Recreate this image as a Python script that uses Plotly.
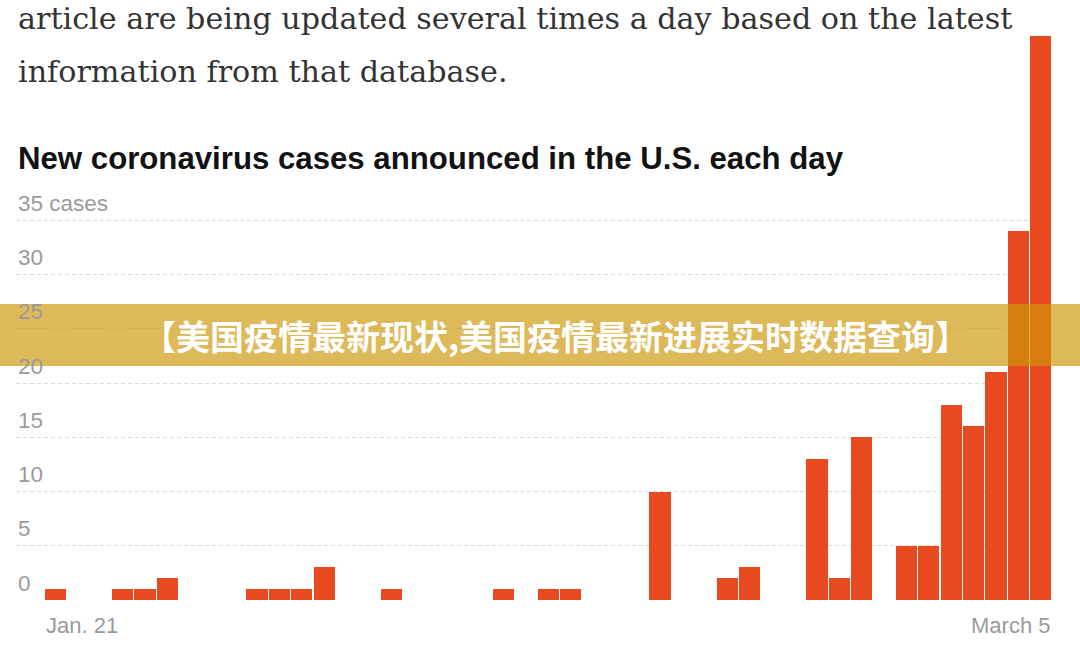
import plotly.graph_objects as go
import pandas as pd

# ---- data ----
dates = pd.date_range("2020-01-21", "2020-03-05", freq="D").strftime("%Y-%m-%d").tolist()
new_cases = [1, 0, 0, 1, 1, 2, 0, 0, 0, 1,
             1, 1, 3, 0, 0, 1, 0, 0, 0, 0,
             1, 0, 1, 1, 0, 0, 0, 10, 0, 0,
             2, 3, 0, 0, 13, 2, 15, 0, 5, 5,
             18, 16, 21, 34, 52]
y_ticks = [0, 5, 10, 15, 20, 25, 30, 35]
y_tick_text = ["0", "5", "10", "15", "20", "25", "30", "35 cases"]
x_label_first = "Jan. 21"
x_label_last = "March 5"
body_lines = ["article are being updated several times a day based on the latest",
              "information from that database."]
chart_title = "New coronavirus cases announced in the U.S. each day"
banner_text = "【美国疫情最新现状,美国疫情最新进展实时数据查询】"

DAY_MS = 86400000
W, H = 1080, 671
L, R, T, B = 16, 28, 36, 71
PW, PH = W - L - R, H - T - B


def px_x(px):
    return (px - L) / PW


def px_y(py):
    return (H - B - py) / PH


fig = go.Figure()
fig.add_trace(go.Bar(
    x=dates, y=new_cases,
    width=0.95 * DAY_MS,
    marker=dict(color="#E84A1F", line=dict(width=0)),
    hoverinfo="x+y",
))

sans = "Liberation Sans, Arial, sans-serif"
serif = "DejaVu Serif, Liberation Serif, serif"
grey = "#9a9a9a"

annotations = []
for v, t in zip(y_ticks, y_tick_text):
    annotations.append(dict(
        x=0, xref="paper", xanchor="left", y=v, yref="y", yanchor="middle",
        yshift=17, text=t, showarrow=False,
        font=dict(family=sans, size=22.5, color=grey)))

annotations.append(dict(
    x=pd.Timestamp(dates[0]) - pd.Timedelta(hours=12), xref="x", xanchor="left",
    y=px_y(625), yref="paper", yanchor="middle", text=x_label_first,
    showarrow=False, font=dict(family=sans, size=22, color=grey)))
annotations.append(dict(
    x=pd.Timestamp(dates[-1]) + pd.Timedelta(hours=12), xref="x", xanchor="right",
    y=px_y(625), yref="paper", yanchor="middle", text=x_label_last,
    showarrow=False, font=dict(family=sans, size=22, color=grey)))

for line, cy in zip(body_lines, [19, 71]):
    annotations.append(dict(
        x=px_x(16), xref="paper", xanchor="left", y=px_y(cy), yref="paper",
        yanchor="middle", text=line, showarrow=False,
        font=dict(family=serif, size=30.2, color="#333333")))

annotations.append(dict(
    x=px_x(16), xref="paper", xanchor="left", y=px_y(158), yref="paper",
    yanchor="middle", text="<b>" + chart_title + "</b>", showarrow=False,
    font=dict(family=sans, size=31.2, color="#121212")))

annotations.append(dict(
    x=px_x(555), xref="paper", xanchor="center", y=px_y(335), yref="paper",
    yanchor="middle", text="<b>" + banner_text + "</b>", showarrow=False,
    font=dict(family="Noto Sans CJK SC", size=34, color="#ffffff")))

shapes = [dict(
    type="rect", xref="paper", yref="paper",
    x0=px_x(0), x1=px_x(W), y0=px_y(366), y1=px_y(304),
    fillcolor="rgba(204,151,9,0.67)", line=dict(width=0), layer="above")]

x_left = pd.Timestamp(dates[0]) - pd.Timedelta(days=1.763)
x_right = pd.Timestamp(dates[-1]) + pd.Timedelta(hours=12)

fig.update_layout(
    width=W, height=H,
    margin=dict(l=L, r=R, t=T, b=B, pad=0),
    paper_bgcolor="white", plot_bgcolor="white",
    showlegend=False,
    bargap=0,
    xaxis=dict(type="date", range=[x_left, x_right], showgrid=False,
               showticklabels=False, zeroline=False, showline=False, ticks=""),
    yaxis=dict(range=[0, 52], tickvals=y_ticks, showticklabels=False,
               showgrid=True, gridcolor="#d9d9d9", gridwidth=1,
               griddash="4px,3px", zeroline=False, showline=False, ticks=""),
    annotations=annotations,
    shapes=shapes,
)

fig.write_html("out.html", config={"displayModeBar": False},
               post_script="document.body.style.margin='0';")
